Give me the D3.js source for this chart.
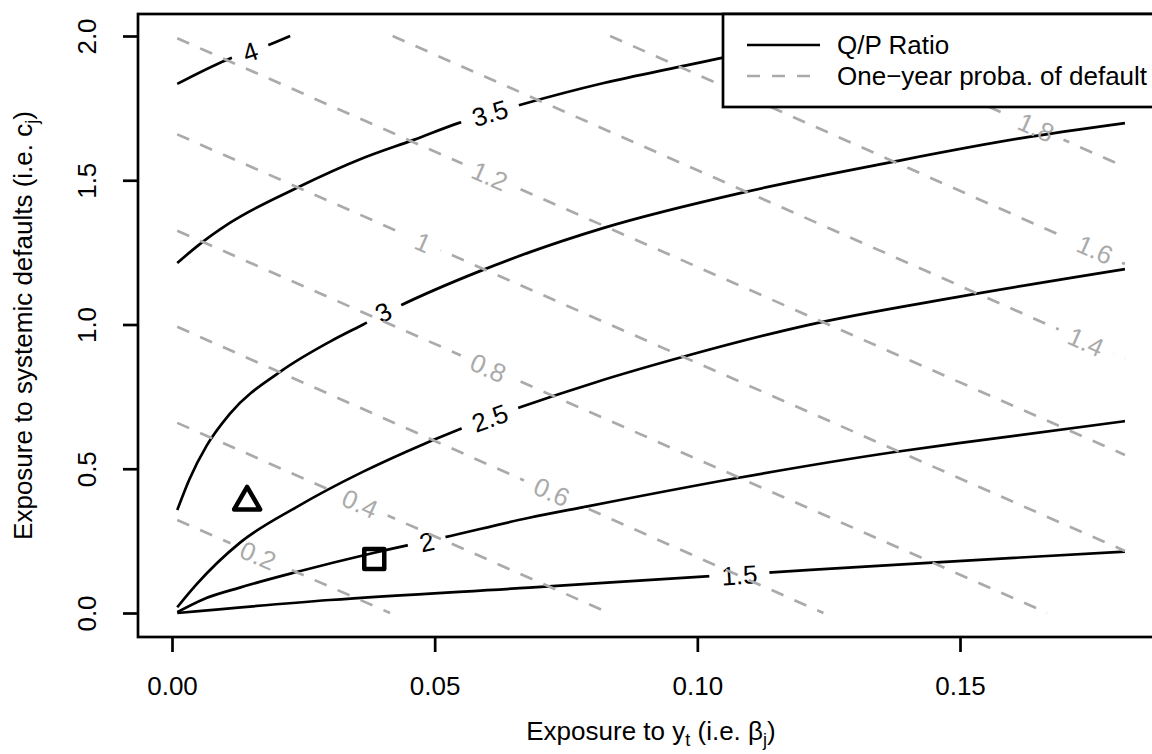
<!DOCTYPE html>
<html><head><meta charset="utf-8">
<script src="https://cdn.jsdelivr.net/npm/d3@7"></script>
<style>
body{margin:0;background:#fff}
svg{display:block}
text{font-family:"Liberation Sans",Arial,Helvetica,sans-serif}
</style>
</head><body><svg id="c" width="1152" height="754"></svg>
<script>
// ---------------- data ----------------
const xTickValues = [0, 0.05, 0.10, 0.15];
const xTickLabels = ["0.00", "0.05", "0.10", "0.15"];
const yTickValues = [0, 0.5, 1.0, 1.5, 2.0];
const yTickLabels = ["0.0", "0.5", "1.0", "1.5", "2.0"];

// Q/P ratio contours: [beta, c]
const qpLevels = ["1.5", "2", "2.5", "3", "3.5", "4"];
const qp15 = [[0.001,0.0],[0.030,0.045],[0.068,0.088],[0.1017,0.127],[0.1142,0.141],[0.1439,0.174],[0.1814,0.213]];
const qp20 = [[0.001,0.003],[0.006,0.048],[0.0129,0.088],[0.0237,0.142],[0.0383,0.208],[0.052,0.263],[0.068,0.330],[0.0783,0.367],[0.1076,0.468],[0.1376,0.558],[0.1494,0.588],[0.1814,0.665]];
const qp25 = [[0.001,0.02],[0.0047,0.10],[0.0129,0.243],[0.0237,0.367],[0.0364,0.49],[0.0447,0.56],[0.0545,0.635],[0.0664,0.714],[0.0807,0.80],[0.0973,0.888],[0.121,0.998],[0.1494,1.095],[0.1814,1.192]];
const qp30 = [[0.001,0.357],[0.0033,0.463],[0.0066,0.58],[0.011,0.69],[0.0209,0.84],[0.030,0.94],[0.0364,1.0],[0.0434,1.065],[0.0586,1.185],[0.068,1.25],[0.0822,1.335],[0.109,1.459],[0.137,1.563],[0.1614,1.645],[0.1814,1.698]];
const qp35 = [[0.001,1.213],[0.0047,1.27],[0.011,1.352],[0.0237,1.473],[0.0364,1.577],[0.046,1.640],[0.0545,1.698],[0.0662,1.761],[0.0822,1.837],[0.0965,1.893],[0.1052,1.926],[0.118,1.968],[0.127,2.0]];
const qp40 = [[0.001,1.834],[0.0104,1.917],[0.018,1.966],[0.0225,2.0]];
const qpLabelPos = [[0.108,0.132],[0.0485,0.247],[0.0605,0.676],[0.0402,1.043],[0.0605,1.733],[0.0149,1.945]];

// One-year default probability contours (straight): start/end [beta, c]
const pdLevels = ["0.2", "0.4", "0.6", "0.8", "1", "1.2", "1.4", "1.6", "1.8"];
const pdStart = [[0.001,0.322],[0.001,0.659],[0.001,0.992],[0.001,1.325],[0.001,1.659],[0.001,1.992],[0.042,2.0],[0.0834,2.0],[0.125,2.0]];
const pdEnd   = [[0.0415,0],[0.0832,0],[0.124,0],[0.1666,0],[0.1814,0.215],[0.1814,0.548],[0.1814,0.882],[0.1814,1.21],[0.1814,1.546]];
const pdLabelPos = [[0.0164,0.20],[0.0358,0.38],[0.0723,0.42],[0.0602,0.85],[0.0478,1.285],[0.0605,1.515],[0.174,0.94],[0.1757,1.26],[0.1645,1.684]];

const trianglePoint = [0.0143, 0.385];
const squarePoint = [0.0385, 0.187];
const legendLabels = ["Q/P Ratio", "One\u2212year proba. of default"];

// ---------------- drawing ----------------
const W = 1152, H = 754, FS = 26;
const GRAY = "#aaaaaa";
const LW = 2.7;
const svg = d3.select("#c");
const x = d3.scaleLinear().domain([0, 0.15]).range([172, 960]);
const y = d3.scaleLinear().domain([0, 2]).range([613, 36]);
const box = {l: 138, t: 14, r: 1164, b: 637};
const defs = svg.append("defs");

const qpData = [qp15, qp20, qp25, qp30, qp35, qp40];
const line = d3.line().x(d => x(d[0])).y(d => y(d[1])).curve(d3.curveMonotoneX);

function angleAt(pts, b) {
  let i = 0;
  while (i < pts.length - 2 && pts[i + 1][0] < b) i++;
  const p0 = pts[i], p1 = pts[i + 1];
  return Math.atan2(y(p1[1]) - y(p0[1]), x(p1[0]) - x(p0[0])) * 180 / Math.PI;
}

function drawLabeledLine(g, id, pathD, labelText, lp, ang, color, dash) {
  const lx = x(lp[0]), ly = y(lp[1]);
  const t = g.append("text")
    .attr("transform", `translate(${lx},${ly}) rotate(${ang})`)
    .attr("text-anchor", "middle").attr("dy", "0.36em")
    .attr("font-size", FS).attr("fill", color).text(labelText);
  const tw = t.node().getComputedTextLength();
  const m = defs.append("mask").attr("id", id).attr("maskUnits", "userSpaceOnUse")
    .attr("x", 0).attr("y", 0).attr("width", W).attr("height", H);
  m.append("rect").attr("x", 0).attr("y", 0).attr("width", W).attr("height", H).attr("fill", "#fff");
  m.append("rect").attr("x", -(tw + 24) / 2).attr("y", -11).attr("width", tw + 24).attr("height", 22)
    .attr("fill", "#000").attr("transform", `translate(${lx},${ly}) rotate(${ang})`);
  g.insert("path", "text").attr("d", pathD).attr("fill", "none").attr("stroke", color)
    .attr("stroke-width", LW).attr("stroke-dasharray", dash).attr("mask", `url(#${id})`);
}

// solid Q/P contours
const gQ = svg.append("g");
qpData.forEach((pts, i) => {
  drawLabeledLine(gQ.append("g"), "mq" + i, line(pts), qpLevels[i], qpLabelPos[i],
    angleAt(pts, qpLabelPos[i][0]), "#000", null);
});

// dashed probability contours
const gP = svg.append("g");
pdLevels.forEach((lev, i) => {
  const pts = [pdStart[i], pdEnd[i]];
  const ang = Math.atan2(y(pts[1][1]) - y(pts[0][1]), x(pts[1][0]) - x(pts[0][0])) * 180 / Math.PI;
  drawLabeledLine(gP.append("g"), "mp" + i, d3.line().x(d => x(d[0])).y(d => y(d[1]))(pts),
    lev, pdLabelPos[i], ang, GRAY, "13,12");
});

// markers
const tr = 15;
const tx = x(trianglePoint[0]), ty = y(trianglePoint[1]);
svg.append("path")
  .attr("d", `M${tx},${ty - tr}L${tx + tr * 0.866},${ty + tr / 2}L${tx - tr * 0.866},${ty + tr / 2}Z`)
  .attr("fill", "none").attr("stroke", "#000").attr("stroke-width", 4.5).attr("stroke-linejoin", "round");
const sq = 10;
svg.append("rect").attr("x", x(squarePoint[0]) - sq).attr("y", y(squarePoint[1]) - sq)
  .attr("width", 2 * sq).attr("height", 2 * sq)
  .attr("fill", "none").attr("stroke", "#000").attr("stroke-width", 4.5).attr("stroke-linejoin", "round");

// box
svg.append("rect").attr("x", box.l).attr("y", box.t).attr("width", box.r - box.l).attr("height", box.b - box.t)
  .attr("fill", "none").attr("stroke", "#000").attr("stroke-width", LW);

// x axis
const xAxis = svg.append("g").attr("transform", `translate(0,${box.b})`)
  .call(d3.axisBottom(x).tickValues(xTickValues).tickSize(15).tickFormat((d, i) => xTickLabels[i]));
xAxis.select(".domain").remove();
xAxis.selectAll(".tick line").attr("stroke", "#000").attr("stroke-width", LW);
xAxis.selectAll(".tick text").attr("y", 58).attr("dy", null).attr("font-size", FS)
  .attr("font-family", null).attr("fill", "#000");

// y axis
const yAxis = svg.append("g").attr("transform", `translate(${box.l},0)`)
  .call(d3.axisLeft(y).tickValues(yTickValues).tickSize(15).tickFormat((d, i) => yTickLabels[i]));
yAxis.select(".domain").remove();
yAxis.selectAll(".tick line").attr("stroke", "#000").attr("stroke-width", LW);
yAxis.selectAll(".tick text").attr("x", null).attr("dy", null).attr("y", null)
  .attr("transform", "translate(-42,0) rotate(-90)").attr("text-anchor", "middle")
  .attr("font-size", FS).attr("font-family", null).attr("fill", "#000");

// axis titles
const xt = svg.append("text").attr("x", (box.l + box.r) / 2).attr("y", 740)
  .attr("text-anchor", "middle").attr("font-size", FS);
xt.append("tspan").text("Exposure to y");
xt.append("tspan").attr("font-size", 18).attr("dy", 6).text("t");
xt.append("tspan").attr("dy", -6).text(" (i.e. \u03B2");
xt.append("tspan").attr("font-size", 18).attr("dy", 6).text("j");
xt.append("tspan").attr("dy", -6).text(")");

const yt = svg.append("text").attr("transform", `translate(32,${(box.t + box.b) / 2}) rotate(-90)`)
  .attr("text-anchor", "middle").attr("font-size", FS);
yt.append("tspan").text("Exposure to systemic defaults (i.e. c");
yt.append("tspan").attr("font-size", 18).attr("dy", 6).text("j");
yt.append("tspan").attr("dy", -6).text(")");

// legend
const lg = svg.append("g");
lg.append("rect").attr("x", 723).attr("y", box.t).attr("width", 500).attr("height", 93)
  .attr("fill", "#fff").attr("stroke", "#000").attr("stroke-width", LW);
const legendRows = [45, 76];
legendLabels.forEach((lab, i) => {
  lg.append("line").attr("x1", 747).attr("x2", 820).attr("y1", legendRows[i]).attr("y2", legendRows[i])
    .attr("stroke", i === 0 ? "#000" : GRAY).attr("stroke-width", LW)
    .attr("stroke-dasharray", i === 0 ? null : "13,12");
  lg.append("text").attr("x", 837).attr("y", legendRows[i]).attr("dy", "0.36em")
    .attr("font-size", FS).text(lab);
});
</script>
</body></html>
